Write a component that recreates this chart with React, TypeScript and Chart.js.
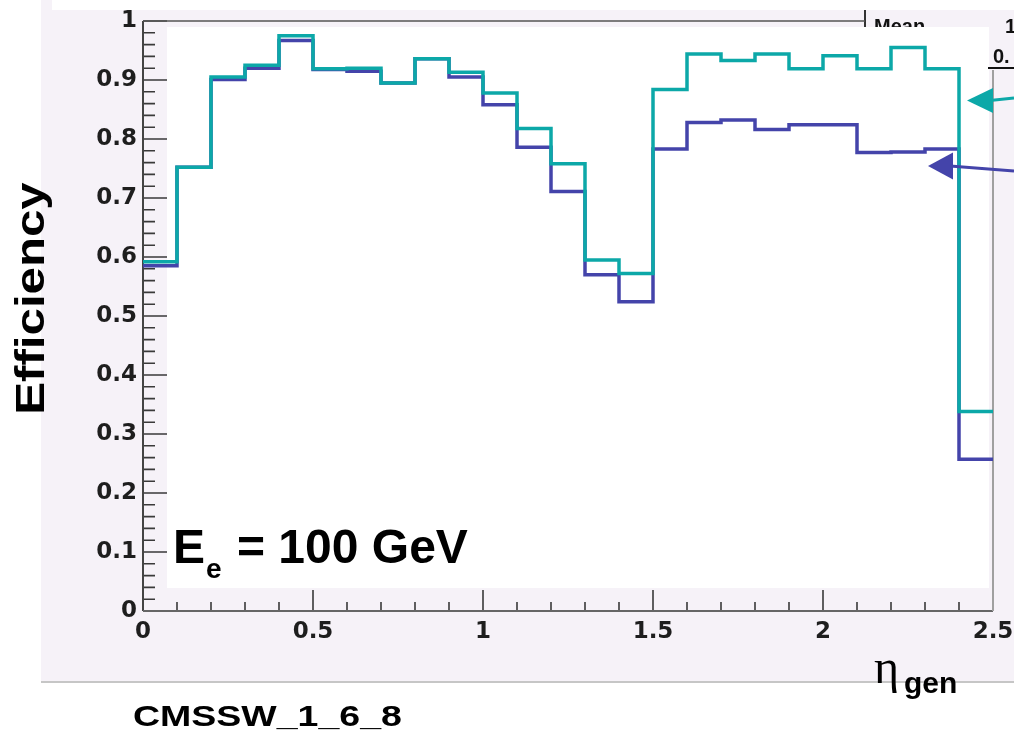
import React, { useEffect, useRef } from "react";
import { Chart, registerables } from "chart.js";

Chart.register(...registerables);

// ---- data ----
const binEdges = [0, 0.1, 0.2, 0.3, 0.4, 0.5, 0.6, 0.7, 0.8, 0.9, 1.0, 1.1, 1.2, 1.3, 1.4, 1.5, 1.6, 1.7, 1.8, 1.9, 2.0, 2.1, 2.2, 2.3, 2.4, 2.5];
const tealEff = [0.592, 0.752, 0.905, 0.925, 0.975, 0.919, 0.92, 0.895, 0.936, 0.913, 0.878, 0.818, 0.758, 0.595, 0.572, 0.884, 0.944, 0.933, 0.944, 0.919, 0.941, 0.919, 0.955, 0.919, 0.338];
const blueEff = [0.585, 0.752, 0.901, 0.92, 0.967, 0.918, 0.915, 0.895, 0.936, 0.905, 0.858, 0.786, 0.711, 0.57, 0.524, 0.783, 0.828, 0.832, 0.816, 0.824, 0.824, 0.777, 0.778, 0.783, 0.257];
const xTickStep = 0.5;
const yTickStep = 0.1;
const yAxisTitle = "Efficiency";
const energyLabel = ["E", "e", "= 100 GeV"];
const xAxisTitle = ["η", "gen"];
const footer = "CMSSW_1_6_8";

const W = 1014;
const H = 736;
const LAV = "#f6f2f8";
const TEAL = "#0ca8a8";
const BLUE = "#4444aa";
const SANS = '"Liberation Sans", Arial, sans-serif';

function toSteps(vals: number[]) {
  return binEdges.map((e, i) => ({ x: e, y: vals[Math.min(i, vals.length - 1)] }));
}

function rootLabel(v: any) {
  const n = Number(v);
  if (Math.abs(n - Math.round(n)) < 1e-9) return String(Math.round(n));
  return n.toFixed(1);
}

const bgPlugin = {
  id: "rootBackground",
  beforeDraw(chart: any) {
    const ctx = chart.ctx as CanvasRenderingContext2D;
    const xs = chart.scales.x;
    const ys = chart.scales.y;
    const left = xs.getPixelForValue(0);
    const right = xs.getPixelForValue(2.5);
    const bottom = ys.getPixelForValue(0);
    const top = ys.getPixelForValue(1);
    ctx.save();
    ctx.fillStyle = "#ffffff";
    ctx.fillRect(0, 0, W, H);
    ctx.fillStyle = LAV;
    ctx.fillRect(41, 0, W - 41, 683);
    ctx.fillStyle = "#ffffff";
    ctx.fillRect(52, 0, W - 52, 10);
    ctx.fillStyle = "#c6c6c6";
    ctx.fillRect(41, 681, W - 41, 2);

    // stats box fragments
    ctx.fillStyle = "#111";
    ctx.font = `bold 20px ${SANS}`;
    ctx.textBaseline = "alphabetic";
    ctx.fillText("Mean", 874, 33);
    ctx.fillText("1", 1005, 33);
    ctx.fillStyle = "#333";
    ctx.fillRect(864, 10, 2, 17);

    // ticks
    ctx.strokeStyle = "#3a3a3a";
    ctx.lineWidth = 1.6;
    ctx.beginPath();
    for (let k = 0; k <= 50; k++) {
      const py = ys.getPixelForValue(k * 0.02);
      const len = k % 5 === 0 ? 24 : 12;
      ctx.moveTo(left, py);
      ctx.lineTo(left + len, py);
    }
    for (let k = 0; k <= 25; k++) {
      const px = xs.getPixelForValue(k * 0.1);
      const len = k % 5 === 0 ? 21 : 9;
      ctx.moveTo(px, bottom);
      ctx.lineTo(px, bottom - len);
    }
    ctx.stroke();

    // pasted white panel
    ctx.fillStyle = "#ffffff";
    ctx.fillRect(167, 27, right - 4 - 167, 561);

    // axis lines / frame
    ctx.strokeStyle = "#444";
    ctx.lineWidth = 2;
    ctx.beginPath();
    ctx.moveTo(left, top);
    ctx.lineTo(left, bottom);
    ctx.stroke();
    ctx.strokeStyle = "#666";
    ctx.beginPath();
    ctx.moveTo(left, bottom);
    ctx.lineTo(right, bottom);
    ctx.stroke();
    ctx.strokeStyle = "#555";
    ctx.lineWidth = 1.6;
    ctx.beginPath();
    ctx.moveTo(left, top);
    ctx.lineTo(865, top);
    ctx.stroke();
    ctx.strokeStyle = "#a0a0a0";
    ctx.lineWidth = 2;
    ctx.beginPath();
    ctx.moveTo(right, 70);
    ctx.lineTo(right, bottom);
    ctx.stroke();

    // stats box "0." and its rule
    ctx.fillStyle = "#111";
    ctx.font = `bold 20px ${SANS}`;
    ctx.fillText("0.", 993, 63);
    ctx.fillRect(988, 67, W - 988, 2);
    ctx.restore();
  },
};

const annotPlugin = {
  id: "rootAnnotations",
  afterDraw(chart: any) {
    const ctx = chart.ctx as CanvasRenderingContext2D;
    ctx.save();
    // arrows
    const arrow = (color: string, tip: [number, number], baseX: number, half: number, endY: number) => {
      ctx.fillStyle = color;
      ctx.strokeStyle = color;
      ctx.lineWidth = 3;
      ctx.beginPath();
      ctx.moveTo(baseX - 3, tip[1]);
      ctx.lineTo(W, endY);
      ctx.stroke();
      ctx.beginPath();
      ctx.moveTo(tip[0], tip[1]);
      ctx.lineTo(baseX, tip[1] - half);
      ctx.lineTo(baseX, tip[1] + half);
      ctx.closePath();
      ctx.fill();
    };
    arrow(TEAL, [967, 100.5], 993, 12.5, 98);
    arrow(BLUE, [928, 166], 953, 13.5, 171);

    ctx.fillStyle = "#000";
    ctx.textBaseline = "alphabetic";
    ctx.textAlign = "left";
    // E_e = 100 GeV
    ctx.font = `bold 48px ${SANS}`;
    ctx.fillText(energyLabel[0], 173, 563);
    ctx.font = `bold 28px ${SANS}`;
    ctx.fillText(energyLabel[1], 206, 578);
    ctx.font = `bold 48px ${SANS}`;
    ctx.fillText(energyLabel[2], 237, 563);

    // x axis title
    ctx.font = `48px "Liberation Serif", "DejaVu Serif", serif`;
    ctx.fillText(xAxisTitle[0], 874, 683);
    ctx.font = `bold 30px ${SANS}`;
    ctx.fillText(xAxisTitle[1], 904, 693);

    // footer
    ctx.save();
    ctx.translate(133, 726);
    ctx.scale(1.25, 1);
    ctx.font = `bold 30px ${SANS}`;
    ctx.fillText(footer, 0, 0);
    ctx.restore();

    // y axis title
    ctx.save();
    ctx.translate(44, 298.5);
    ctx.rotate(-Math.PI / 2);
    ctx.scale(1.2, 1);
    ctx.textAlign = "center";
    ctx.font = `bold 41px ${SANS}`;
    ctx.fillText(yAxisTitle, 0, 0);
    ctx.restore();

    ctx.restore();
  },
};

export default function App() {
  const ref = useRef<HTMLCanvasElement | null>(null);
  useEffect(() => {
    if (!ref.current) return;
    const tickFont = { family: '"DejaVu Sans", sans-serif', size: 23, weight: "bold" as const };
    const chart = new Chart(ref.current, {
      type: "line",
      data: {
        datasets: [
          {
            label: "teal",
            data: toSteps(tealEff),
            borderColor: TEAL,
            borderWidth: 3.5,
            stepped: true,
            pointRadius: 0,
            fill: false,
            borderJoinStyle: "miter",
            borderCapStyle: "butt",
          },
          {
            label: "blue",
            data: toSteps(blueEff),
            borderColor: BLUE,
            borderWidth: 3.5,
            stepped: true,
            pointRadius: 0,
            fill: false,
            borderJoinStyle: "miter",
            borderCapStyle: "butt",
          },
        ],
      },
      options: {
        responsive: false,
        animation: false,
        devicePixelRatio: 1,
        layout: { padding: { top: 21, right: 21, left: 0, bottom: 0 } },
        plugins: { legend: { display: false }, tooltip: { enabled: false } },
        scales: {
          x: {
            type: "linear",
            min: 0,
            max: 2.5,
            grid: { display: false, drawTicks: false },
            border: { display: false },
            ticks: { stepSize: xTickStep, font: tickFont, color: "#1e1e1e", padding: 7, maxRotation: 0, autoSkip: false, callback: rootLabel },
            afterFit: (s: any) => {
              s.height = 125;
              s.paddingLeft = 0;
              s.paddingRight = 0;
            },
          },
          y: {
            type: "linear",
            min: 0,
            max: 1,
            grid: { display: false, drawTicks: false },
            border: { display: false },
            ticks: { stepSize: yTickStep, font: tickFont, color: "#1e1e1e", padding: 6, autoSkip: false, callback: rootLabel },
            afterFit: (s: any) => {
              s.width = 143;
              s.paddingTop = 0;
              s.paddingBottom = 0;
            },
          },
        },
      },
      plugins: [bgPlugin, annotPlugin],
    });
    return () => chart.destroy();
  }, []);
  return (
    <div style={{ position: "absolute", left: 0, top: 0, width: W, height: H }}>
      <canvas ref={ref} width={W} height={H} style={{ display: "block", width: W, height: H }} />
    </div>
  );
}
